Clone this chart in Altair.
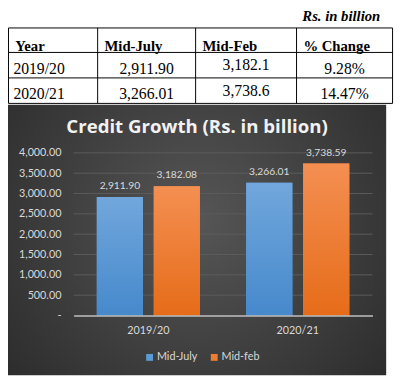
import altair as alt
import pandas as pd

# ---------------- data ----------------
years = ["2019/20", "2020/21"]
series_names = ["Mid-July", "Mid-feb"]
mid_july = [2911.90, 3266.01]
mid_feb = [3182.08, 3738.59]
y_ticks = [0, 500, 1000, 1500, 2000, 2500, 3000, 3500, 4000]

table_headers = ["Year", "Mid-July", "Mid-Feb", "% Change"]
table_mid_july = ["2,911.90", "3,266.01"]
table_mid_feb = ["3,182.1", "3,738.6"]
table_pct = ["9.28%", "14.47%"]
unit_note = "Rs. in billion"
chart_title = "Credit Growth (Rs. in billion)"

# ---------------- tables for the library ----------------
bars_df = pd.DataFrame(
    [{"year": y, "series": series_names[0], "value": v} for y, v in zip(years, mid_july)]
    + [{"year": y, "series": series_names[1], "value": v} for y, v in zip(years, mid_feb)]
)

cells = []
for i, h in enumerate(table_headers):
    cells.append({"text": h, "col": i, "row": 0, "kind": "header"})
for r, y in enumerate(years):
    cells.append({"text": y, "col": 0, "row": r + 1, "kind": "year"})
    cells.append({"text": table_mid_july[r], "col": 1, "row": r + 1, "kind": "val"})
    cells.append({"text": table_mid_feb[r], "col": 2, "row": r + 1, "kind": "feb"})
    cells.append({"text": table_pct[r], "col": 3, "row": r + 1, "kind": "val"})
cells_df = pd.DataFrame(cells)

hlines_df = pd.DataFrame({"rb": [0, 1, 2, 3]})
vlines_df = pd.DataFrame({"cb": [0, 1, 2, 3, 4]})
grid_df = pd.DataFrame({"tick": [t for t in y_ticks if t > 0]})
one_df = pd.DataFrame({"title": [chart_title], "note": [unit_note]})

# ---------------- scales ----------------
col_scale = alt.Scale(domain=[0, 1, 2, 3, 4], range=[-66.5, 24.5, 124.5, 227.5, 325.5],
                      nice=False, zero=False)
row_scale = alt.Scale(domain=[0, 1, 2, 3], range=[-127.5, -102.5, -76.5, -50.5],
                      nice=False, zero=False)

SERIF = "Liberation Serif"
SANS = "Lato"
LIGHT = "#d9d9d9"

# ---------------- background panel ----------------
panel = alt.Chart(one_df).mark_rect(
    fill={
        "gradient": "radial",
        "x1": 0.5, "y1": 0.45, "r1": 0,
        "x2": 0.5, "y2": 0.45, "r2": 0.75,
        "stops": [{"offset": 0, "color": "#565656"}, {"offset": 1, "color": "#262626"}],
    }
).encode(
    x=alt.value(-67), x2=alt.value(319), y=alt.value(-49), y2=alt.value(227)
)

title_text = alt.Chart(one_df).mark_text(
    font="Open Sans", fontSize=19, fontWeight="bold", color="#f2f2f2",
    align="center", baseline="middle"
).encode(x=alt.value(126), y=alt.value(-26), text="title:N")

note_text = alt.Chart(one_df).mark_text(
    font=SERIF, fontSize=15, fontWeight="bold", fontStyle="italic", color="#000000",
    align="right", baseline="middle"
).encode(x=alt.value(313), y=alt.value(-140), text="note:N")

# ---------------- table ----------------
hlines = alt.Chart(hlines_df).transform_calculate(c0="0", c4="4").mark_rule(
    color="#000000", strokeWidth=1
).encode(
    y=alt.Y("rb:Q", scale=row_scale, axis=None),
    x=alt.X("c0:Q", scale=col_scale, axis=None),
    x2="c4:Q",
)
vlines = alt.Chart(vlines_df).transform_calculate(r0="0", r3="3").mark_rule(
    color="#000000", strokeWidth=1
).encode(
    x=alt.X("cb:Q", scale=col_scale, axis=None),
    y=alt.Y("r0:Q", scale=row_scale, axis=None),
    y2="r3:Q",
)

cell_base = alt.Chart(cells_df).transform_calculate(
    rowb="datum.row + 1", colc="datum.col + 0.5"
)

header_text = cell_base.transform_filter("datum.kind == 'header'").mark_text(
    font=SERIF, fontSize=15, fontWeight="bold", color="#000000",
    align="left", baseline="alphabetic", dx=7, dy=-1
).encode(
    x=alt.X("col:Q", scale=col_scale, axis=None),
    y=alt.Y("rowb:Q", scale=row_scale, axis=None),
    text="text:N",
)
year_text = cell_base.transform_filter("datum.kind == 'year'").mark_text(
    font=SERIF, fontSize=16, color="#000000",
    align="left", baseline="alphabetic", dx=5, dy=-4
).encode(
    x=alt.X("col:Q", scale=col_scale, axis=None),
    y=alt.Y("rowb:Q", scale=row_scale, axis=None),
    text="text:N",
)
val_text = cell_base.transform_filter("datum.kind == 'val'").mark_text(
    font=SERIF, fontSize=16, color="#000000",
    align="center", baseline="alphabetic", dy=-4
).encode(
    x=alt.X("colc:Q", scale=col_scale, axis=None),
    y=alt.Y("rowb:Q", scale=row_scale, axis=None),
    text="text:N",
)
feb_text = cell_base.transform_filter("datum.kind == 'feb'").mark_text(
    font=SERIF, fontSize=16, color="#000000",
    align="center", baseline="alphabetic", dy=-8
).encode(
    x=alt.X("colc:Q", scale=col_scale, axis=None),
    y=alt.Y("rowb:Q", scale=row_scale, axis=None),
    text="text:N",
)

# ---------------- bar chart ----------------
y_scale = alt.Scale(domain=[0, 4000], nice=False)
x_scale = alt.Scale(domain=years, paddingInner=0.31, paddingOuter=0.155)
label_expr = "datum.value == 0 ? '-\u00a0\u00a0\u00a0' : format(datum.value, ',.2f')"

x_enc = alt.X(
    "year:N", sort=years, scale=x_scale,
    axis=alt.Axis(title=None, labelAngle=0, ticks=False, domain=True,
                  domainColor="#bfbfbf", domainWidth=1.5, zindex=1,
                  labelColor=LIGHT, labelFont=SANS, labelFontSize=11, labelPadding=9),
)
x_enc_noaxis = alt.X("year:N", sort=years, scale=x_scale, axis=None)
xo_enc = alt.XOffset("series:N", sort=series_names,
                     scale=alt.Scale(domain=series_names, paddingInner=0.19, paddingOuter=0))
y_enc = alt.Y(
    "value:Q", scale=y_scale,
    axis=alt.Axis(title=None, values=y_ticks, grid=False, zindex=1,
                  domain=False, ticks=False, labelExpr=label_expr, labelOverlap=False,
                  labelColor=LIGHT, labelFont=SANS, labelFontSize=11, labelPadding=13),
)
y_enc_noaxis = alt.Y("value:Q", scale=y_scale, axis=None)

grid_rules = alt.Chart(grid_df).mark_rule(color="#5c5c5c", strokeWidth=1).encode(
    y=alt.Y("tick:Q", scale=y_scale, axis=None),
    x=alt.value(0), x2=alt.value("width"),
)

base_bars = alt.Chart(bars_df).mark_bar().encode(
    x=x_enc, xOffset=xo_enc, y=y_enc,
    color=alt.Color(
        "series:N",
        scale=alt.Scale(domain=series_names, range=["#5b9bd5", "#ed7d31"]),
        legend=alt.Legend(
            orient="none", legendX=72, legendY=203, direction="horizontal", title=None,
            symbolType="square", symbolSize=49, symbolStrokeWidth=0,
            labelColor=LIGHT, labelFont=SANS, labelFontSize=11, labelOffset=2,
            columnPadding=11,
        ),
    ),
)

grad_blue = {
    "gradient": "linear", "x1": 0, "y1": 0, "x2": 0, "y2": 1,
    "stops": [{"offset": 0, "color": "#71a7dc"}, {"offset": 1, "color": "#4689cc"}],
}
grad_orange = {
    "gradient": "linear", "x1": 0, "y1": 0, "x2": 0, "y2": 1,
    "stops": [{"offset": 0, "color": "#f48f52"}, {"offset": 1, "color": "#e66c19"}],
}

blue_bars = alt.Chart(bars_df).transform_filter(
    alt.datum.series == series_names[0]
).mark_bar(fill=grad_blue).encode(x=x_enc_noaxis, xOffset=xo_enc, y=y_enc_noaxis)
orange_bars = alt.Chart(bars_df).transform_filter(
    alt.datum.series == series_names[1]
).mark_bar(fill=grad_orange).encode(x=x_enc_noaxis, xOffset=xo_enc, y=y_enc_noaxis)

bar_labels = alt.Chart(bars_df).transform_calculate(
    label="format(datum.value, ',.2f')"
).mark_text(
    font=SANS, fontSize=10.5, color=LIGHT, align="center", baseline="middle", dy=-11
).encode(x=x_enc_noaxis, xOffset=xo_enc, y=y_enc_noaxis, text="label:N")

chart = alt.layer(
    panel, title_text, note_text,
    hlines, vlines, header_text, year_text, val_text, feb_text,
    grid_rules, base_bars, blue_bars, orange_bars, bar_labels,
).resolve_scale(
    x="independent", y="independent"
).properties(
    width=305, height=166,
    autosize=alt.AutoSizeParams(type="none"),
    padding={"left": 67, "top": 144, "right": 23, "bottom": 64},
    background="#ffffff",
).configure_view(stroke=None)

chart.save("out.html", embed_options={"renderer": "svg", "actions": False})
